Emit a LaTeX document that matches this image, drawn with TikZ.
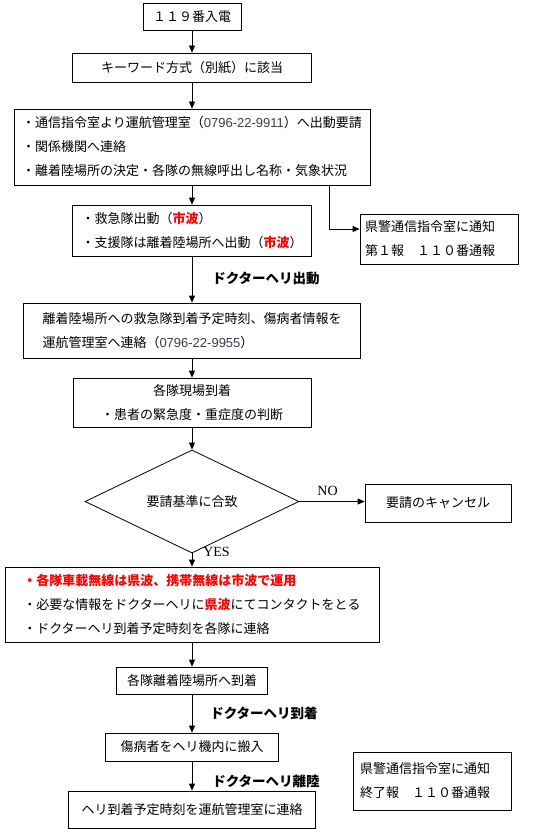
\documentclass[tikz,border=0pt]{standalone}
\usepackage{fontspec}
\setmainfont{Noto Sans CJK JP}
\newfontfamily\numfont{Liberation Sans}
\newfontfamily\yesnofont{Liberation Serif}
\usetikzlibrary{arrows.meta,shapes.geometric}
\definecolor{numgray}{RGB}{60,60,80}
\newcommand{\tel}[1]{{\numfont\color{numgray}#1}}
\newcommand{\redb}[1]{{\bfseries\color{red}#1}}
\begin{document}
\begin{tikzpicture}[x=1pt, y=-1pt,
  every node/.style={inner sep=0pt, font=\fontsize{13}{24}\selectfont},
  box/.style={draw, line width=0.8pt, align=left},
  lbl/.style={font=\fontsize{13.5}{24}\selectfont\bfseries},
  yn/.style={font=\fontsize{14}{16}\yesnofont},
  arr/.style={-{Triangle[length=7pt,width=6pt]}, line width=0.8pt}]
\useasboundingbox (0,0) rectangle (554,832);
\node[box, minimum width=98pt, minimum height=27pt] (call) at (192,16.5) {１１９番入電};
\node[box, minimum width=239pt, minimum height=29pt] (keyword) at (192,67.5) {キーワード方式（別紙）に該当};
\node[box, minimum width=356pt, minimum height=76pt] (dispatch) at (192,147) {・通信指令室より運航管理室（\tel{0796-22-9911}）へ出動要請\\・関係機関へ連絡\\・離着陸場所の決定・各隊の無線呼出し名称・気象状況};
\node[box, minimum width=239pt, minimum height=51pt] (units) at (192,230.5) {・救急隊出動（\redb{市波}）\\・支援隊は離着陸場所へ出動（\redb{市波}）};
\node[box, minimum width=158pt, minimum height=50pt, text width=148pt, inner xsep=5pt] (police) at (439,239) {県警通信指令室に通知\\第１報　１１０番通報};
\node[box, minimum width=337pt, minimum height=55pt] (eta) at (192,330.5) {離着陸場所への救急隊到着予定時刻、傷病者情報を\\運航管理室へ連絡（\tel{0796-22-9955}）};
\node[box, align=center, minimum width=238pt, minimum height=49pt] (scene) at (192,402.5) {各隊現場到着\\・患者の緊急度・重症度の判断};
\node[draw, diamond, line width=0.8pt, minimum width=214pt, minimum height=81pt] (judge) at (192,501.5) {要請基準に合致};
\node[box, minimum width=146pt, minimum height=38pt] (cancel) at (438,503) {要請のキャンセル};
\node[box, minimum width=374pt, minimum height=75pt] (radio) at (192,604.5) {\redb{・各隊車載無線は県波、携帯無線は市波で運用}\\・必要な情報をドクターヘリに\redb{県波}にてコンタクトをとる\\・ドクターヘリ到着予定時刻を各隊に連絡};
\node[box, minimum width=151pt, minimum height=27pt] (arrive) at (192,680.5) {各隊離着陸場所へ到着};
\node[box, minimum width=173pt, minimum height=28pt] (load) at (192,747) {傷病者をヘリ機内に搬入};
\node[box, minimum width=247pt, minimum height=37pt] (report) at (192,809.5) {ヘリ到着予定時刻を運航管理室に連絡};
\node[box, minimum width=158pt, minimum height=58pt, text width=144pt, inner xsep=7pt] (endnote) at (432,781) {県警通信指令室に通知\\終了報　１１０番通報};
% labels beside the arrows
\node[lbl] (takeoff) at (266,278) {ドクターヘリ出動};
\node[lbl] (landing) at (264,713) {ドクターヘリ到着};
\node[lbl] (leave) at (266,781) {ドクターヘリ離陸};
\node[yn] (no) at (327.5,490.5) {NO};
\node[yn] (yes) at (216.5,552) {YES};
\coordinate (tap) at ([xshift=137pt]dispatch.south);
\draw[arr] (call) -- (keyword);
\draw[arr] (keyword) -- (dispatch);
\draw[arr] (dispatch) -- (units);
\draw[arr] (tap) |- ([yshift=10pt]police.west);
\draw[arr] (units) -- (eta);
\draw[arr] (eta) -- (scene);
\draw[arr] (scene) -- (judge);
\draw[arr] (judge.east) -- (judge.east -| cancel.west);
\draw[arr] (judge) -- (radio);
\draw[arr] (radio) -- (arrive);
\draw[arr] (arrive) -- (load);
\draw[arr] (load) -- (report);
\end{tikzpicture}
\end{document}
